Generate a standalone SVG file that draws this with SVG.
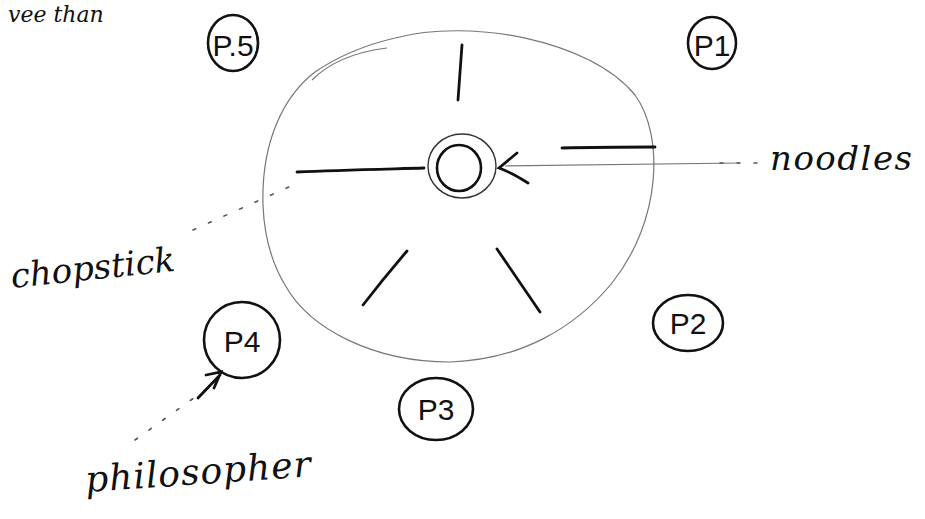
<svg xmlns="http://www.w3.org/2000/svg" width="925" height="519" viewBox="0 0 925 519">
<style>
.hand{font-family:"DejaVu Serif","Liberation Serif",serif;font-style:italic;fill:#111}
.node ellipse{fill:none;stroke:#111;stroke-width:2.6}
.node text{font-family:"Liberation Sans","DejaVu Sans",sans-serif;font-size:30px;fill:#111;text-anchor:middle}
.stick{stroke:#111;stroke-width:2.8;stroke-linecap:round;fill:none}
.thin{stroke:#777;stroke-width:1.2;fill:none}
.dash{stroke:#555;stroke-width:1.6;fill:none;stroke-dasharray:3 14;stroke-linecap:round}
</style>
<rect width="925" height="519" fill="#fff"/>
<text class="hand" x="8" y="22" font-size="22">vee than</text>

<g id="table">
<path class="thin" d="M263,205 C261,140 285,95 315,72 C340,55 365,45 395,38 C470,18 590,40 635,95 C664,135 662,220 612,283 C575,328 520,360 450,362 C375,362 310,330 285,285 C270,260 264,232 263,205 Z"/>
<path class="thin" d="M312,80 C330,62 355,52 387,48"/>
</g>

<g id="chopsticks">
<path class="stick" d="M462,45 L458,100"/>
<path class="stick" d="M297,172 C340,170 390,169 424,168"/>
<path class="stick" d="M562,148 C600,147 630,147 655,147"/>
<path class="stick" d="M363,305 C380,283 395,265 407,251"/>
<path class="stick" d="M497,249 L540,312"/>
</g>

<g id="noodles-bowl">
<ellipse cx="462" cy="166" rx="34" ry="32" fill="none" stroke="#333" stroke-width="1.4"/>
<ellipse cx="459" cy="168" rx="22" ry="23" fill="none" stroke="#111" stroke-width="2.6"/>
</g>

<g id="P5" class="node"><ellipse cx="233" cy="43" rx="25" ry="28"/><text x="233" y="56">P.5</text></g>
<g id="P1" class="node"><ellipse cx="712" cy="43" rx="24" ry="26"/><text x="712" y="56" font-size="26">P1</text></g>
<g id="P2" class="node"><ellipse cx="688" cy="323" rx="35" ry="28"/><text x="688" y="334">P2</text></g>
<g id="P3" class="node"><ellipse cx="436" cy="409" rx="37" ry="31"/><text x="436" y="420">P3</text></g>
<g id="P4" class="node"><ellipse cx="242" cy="340" rx="38" ry="38"/><text x="242" y="352">P4</text></g>

<g id="connectors">
<path class="thin" d="M740,163 L505,166"/>
<path class="dash" d="M720,163 L760,163"/>
<path class="stick" stroke-width="1.6" d="M517,153 L499,168 C510,172 520,178 528,183"/>
<path class="dash" d="M193,230 L300,182"/>
<path class="dash" d="M135,440 L205,390"/>
<path class="stick" stroke-width="2" d="M198,398 L220,375 M206,375 L221,372 L214,388"/>
</g>

<g id="labels">
<text class="hand" x="770" y="170" font-size="34" textLength="142">noodles</text>
<text class="hand" x="12" y="288" font-size="34" textLength="165" transform="rotate(-6 12 288)">chopstick</text>
<text class="hand" x="86" y="492" font-size="36" textLength="226" transform="rotate(-4 86 492)">philosopher</text>
</g>
</svg>
